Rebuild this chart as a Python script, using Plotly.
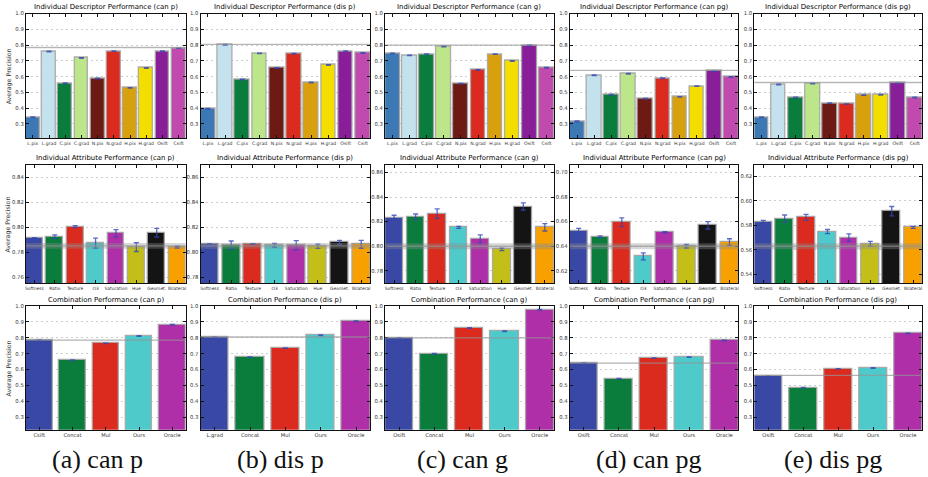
import plotly.graph_objects as go

W, H = 928, 477

conditions = ["can p", "dis p", "can g", "can pg", "dis pg"]
captions = ["(a) can p", "(b) dis p", "(c) can g", "(d) can pg", "(e) dis pg"]

# Row 1: individual descriptors
desc_labels = ["L.pix", "L.grad", "C.pix", "C.grad", "N.pix", "N.grad", "H.pix", "H.grad", "Osift", "Csift"]
desc_can_p = [0.342, 0.760, 0.558, 0.718, 0.588, 0.762, 0.529, 0.655, 0.762, 0.781]
desc_dis_p = [0.397, 0.802, 0.582, 0.748, 0.655, 0.745, 0.563, 0.674, 0.762, 0.750]
desc_can_g = [0.748, 0.735, 0.743, 0.792, 0.556, 0.642, 0.743, 0.699, 0.798, 0.657]
desc_can_pg = [0.317, 0.609, 0.485, 0.618, 0.460, 0.590, 0.472, 0.540, 0.636, 0.598]
desc_dis_pg = [0.342, 0.550, 0.468, 0.556, 0.432, 0.426, 0.483, 0.485, 0.560, 0.468]
desc_err = [0.002, 0.002, 0.002, 0.002, 0.002, 0.002, 0.002, 0.002, 0.002, 0.002]
desc_colors = ["#3b78b4", "#c3e2ee", "#0a7d3c", "#bde58a", "#6d1a15",
               "#db2b1e", "#d9a00e", "#f4de00", "#881f98", "#c04aad"]

# Row 2: individual attributes
attr_labels = ["Softness", "Ratio", "Texture", "O3", "Saturation", "Hue", "Geomet.", "Bilateral"]
attr_can_p = [0.7912, 0.7923, 0.8005, 0.7872, 0.7950, 0.7840, 0.7955, 0.7840]
attr_can_p_err = [0.0005, 0.0015, 0.0008, 0.0040, 0.0030, 0.0035, 0.0035, 0.0007]
attr_dis_p = [0.8063, 0.8055, 0.8063, 0.8055, 0.8055, 0.8047, 0.8079, 0.8063]
attr_dis_p_err = [0.0005, 0.0034, 0.0005, 0.0015, 0.0037, 0.0017, 0.0016, 0.0032]
attr_can_g = [0.8232, 0.8238, 0.8265, 0.8154, 0.8058, 0.7975, 0.8323, 0.8154]
attr_can_g_err = [0.0020, 0.0024, 0.0038, 0.0008, 0.0035, 0.0010, 0.0030, 0.0030]
attr_can_pg = [0.6525, 0.6477, 0.6595, 0.6318, 0.6514, 0.6401, 0.6570, 0.6434]
attr_can_pg_err = [0.0020, 0.0007, 0.0035, 0.0028, 0.0005, 0.0015, 0.0030, 0.0027]
attr_dis_pg = [0.5824, 0.5854, 0.5865, 0.5749, 0.5700, 0.5650, 0.5915, 0.5784]
attr_dis_pg_err = [0.0017, 0.0030, 0.0024, 0.0017, 0.0030, 0.0020, 0.0038, 0.0008]
attr_colors = ["#3a48a5", "#0a7d3c", "#db2b1e", "#4ecaca", "#ae2fa8", "#c4bf18", "#141414", "#f7a000"]

# Row 3: combinations
comb_labels_can_p = ["Csift", "Concat", "Mul", "Ours", "Oracle"]
comb_labels_dis_p = ["L.grad", "Concat", "Mul", "Ours", "Oracle"]
comb_labels_can_g = ["Osift", "Concat", "Mul", "Ours", "Oracle"]
comb_labels_can_pg = ["Osift", "Concat", "Mul", "Ours", "Oracle"]
comb_labels_dis_pg = ["Osift", "Concat", "Mul", "Ours", "Oracle"]
comb_can_p = [0.785, 0.659, 0.765, 0.811, 0.882]
comb_dis_p = [0.804, 0.678, 0.735, 0.816, 0.904]
comb_can_g = [0.800, 0.700, 0.862, 0.841, 0.977]
comb_can_pg = [0.640, 0.542, 0.672, 0.678, 0.783]
comb_dis_pg = [0.559, 0.486, 0.604, 0.610, 0.828]
comb_err = [0.001, 0.002, 0.002, 0.002, 0.002]
comb_colors = ["#3a48a5", "#0a7d3c", "#db2b1e", "#4ecaca", "#ae2fa8"]

# best single-descriptor reference line
baseline = [0.785, 0.805, 0.800, 0.640, 0.563]

row1 = [desc_can_p, desc_dis_p, desc_can_g, desc_can_pg, desc_dis_pg]
row2 = [attr_can_p, attr_dis_p, attr_can_g, attr_can_pg, attr_dis_pg]
row2_err = [attr_can_p_err, attr_dis_p_err, attr_can_g_err, attr_can_pg_err, attr_dis_pg_err]
row3 = [comb_can_p, comb_dis_p, comb_can_g, comb_can_pg, comb_dis_pg]
row3_labels = [comb_labels_can_p, comb_labels_dis_p, comb_labels_can_g, comb_labels_can_pg, comb_labels_dis_pg]

row_titles = ["Individual Descriptor Performance", "Individual Attribute Performance", "Combination Performance"]
row2_ranges = [[0.755, 0.850], [0.775, 0.870], [0.770, 0.866], [0.610, 0.706], [0.533, 0.629]]

cols_px = [(25, 185), (200, 370), (385, 554), (570, 739), (755, 923)]
rows_px = [(10.7, 136), (163, 282), (305, 429.5)]

fig = go.Figure()
layout = {}
shapes = []
annotations = []
FONT = "DejaVu Sans"

idx = 0
for r in range(3):
    for c in range(5):
        idx += 1
        xname = "x" if idx == 1 else f"x{idx}"
        yname = "y" if idx == 1 else f"y{idx}"
        xkey = "xaxis" if idx == 1 else f"xaxis{idx}"
        ykey = "yaxis" if idx == 1 else f"yaxis{idx}"
        if r == 0:
            vals, errs, labels, colors, w = row1[c], desc_err, desc_labels, desc_colors, 0.85
            yr = [0.21, 1.0]
            lab_size = 4.6
        elif r == 1:
            vals, errs, labels, colors, w = row2[c], row2_err[c], attr_labels, attr_colors, 0.83
            yr = row2_ranges[c]
            lab_size = 4.4
        else:
            vals, errs, labels, colors, w = row3[c], comb_err, row3_labels[c], comb_colors, 0.8
            yr = [0.22, 1.0]
            lab_size = 5.2
        n = len(vals)
        xs = list(range(n))
        fig.add_trace(go.Bar(
            x=xs, y=vals, width=w, xaxis=xname, yaxis=yname,
            marker=dict(color=colors, line=dict(color="rgba(165,165,165,0.9)", width=1.3)),
            error_y=dict(type="data", array=errs, visible=True, color="rgba(50,70,180,0.8)",
                         thickness=1.3, width=2.5),
            showlegend=False, hoverinfo="y"))
        x0, x1 = cols_px[c]
        t0, t1 = rows_px[r]
        common_line = dict(showline=True, linecolor="#111", linewidth=1.2, mirror="ticks",
                           ticks="inside", tickcolor="#111", zeroline=False)
        layout[xkey] = dict(domain=[x0 / W, x1 / W], anchor=yname, range=[-w / 2, n - 1 + w / 2],
                            tickmode="array", tickvals=xs, ticktext=labels, tickangle=0,
                            ticklen=3, showgrid=False, fixedrange=True,
                            tickfont=dict(family=FONT, size=lab_size, color="#333"),
                            **common_line)
        if r == 1:
            yt = dict(dtick=0.02, tick0=0, tickformat=".2f")
        else:
            yt = dict(dtick=0.1, tick0=0, tickformat=".1f")
        layout[ykey] = dict(domain=[1 - t1 / H, 1 - t0 / H], anchor=xname, range=yr,
                            showgrid=True, gridcolor="rgba(90,90,90,0.3)", griddash="2px,3px",
                            gridwidth=1, ticklen=3, fixedrange=True,
                            tickfont=dict(family=FONT, size=5.3, color="#333"),
                            **yt, **common_line)
        # reference band / line
        b = baseline[c]
        shapes.append(dict(type="rect", xref=f"{xname} domain", yref=yname, x0=0, x1=1,
                           y0=b - 0.0024, y1=b + 0.0024, fillcolor="rgba(140,140,140,0.35)",
                           line=dict(width=0), layer="above"))
        shapes.append(dict(type="line", xref=f"{xname} domain", yref=yname, x0=0, x1=1,
                           y0=b, y1=b, line=dict(color="rgba(150,150,150,0.6)", width=1.3),
                           layer="above"))
        # panel title
        annotations.append(dict(text=f"{row_titles[r]} ({conditions[c]})", xref="paper", yref="paper",
                                x=(x0 + x1) / 2 / W, y=1 - (t0 - 0.5) / H, xanchor="center",
                                yanchor="bottom", showarrow=False,
                                font=dict(family=FONT, size=6.9, color="#000000")))
    annotations.append(dict(text="Average Precision", xref="paper", yref="paper",
                            x=7.5 / W, y=1 - (rows_px[r][0] + rows_px[r][1]) / 2 / H,
                            textangle=-90, showarrow=False, xanchor="center", yanchor="middle",
                            font=dict(family=FONT, size=6.3, color="#333")))

cap_x = [97, 280, 462, 649, 834]
for c in range(5):
    annotations.append(dict(text=captions[c], xref="paper", yref="paper",
                            x=cap_x[c] / W, y=1 - 459 / H, showarrow=False,
                            xanchor="center", yanchor="middle",
                            font=dict(family="Liberation Serif, Times New Roman, serif",
                                      size=26, color="#111")))

fig.update_layout(width=W, height=H, margin=dict(l=0, r=0, t=0, b=0),
                  paper_bgcolor="white", plot_bgcolor="white",
                  shapes=shapes, annotations=annotations, bargap=0, **layout)

fig.write_html("out.html", config={"displayModeBar": False},
               post_script="document.body.style.margin='0';document.body.style.overflow='hidden';")
